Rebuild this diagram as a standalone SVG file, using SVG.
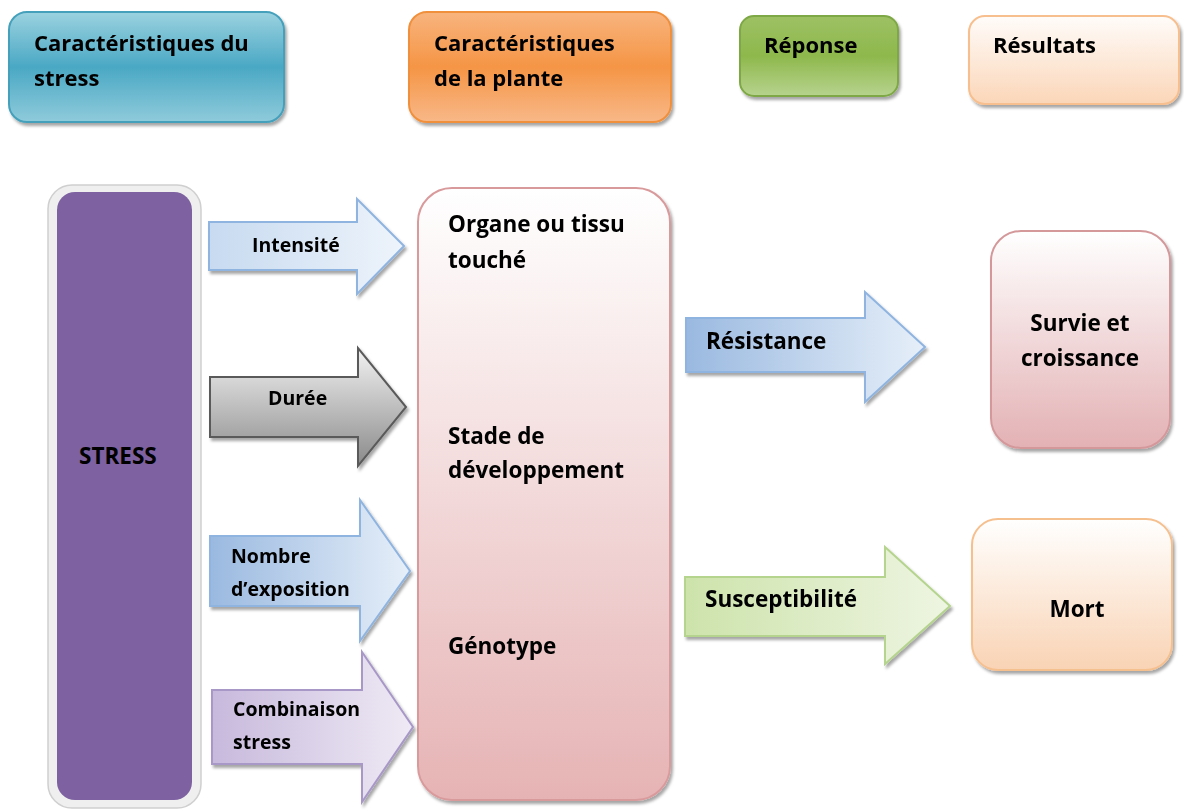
<svg xmlns="http://www.w3.org/2000/svg" width="1184" height="811" viewBox="0 0 1184 811">
<defs>
<style>
text{font-family:"Open Sans","Liberation Sans",sans-serif;font-weight:bold;fill:#000}
.h{font-size:22px}
.t{font-size:22.5px}
.s{font-size:19.5px}
</style>
<filter id="sh" x="-10%" y="-10%" width="125%" height="125%">
<feDropShadow dx="2" dy="3" stdDeviation="1.5" flood-color="#000" flood-opacity="0.35"/>
</filter>
<linearGradient id="gTeal" x1="0" y1="0" x2="0" y2="1">
<stop offset="0" stop-color="#9bd2e0"/><stop offset="0.5" stop-color="#4aa8c4"/><stop offset="1" stop-color="#8fcbdb"/>
</linearGradient>
<linearGradient id="gOrange" x1="0" y1="0" x2="0" y2="1">
<stop offset="0" stop-color="#f8b47e"/><stop offset="0.5" stop-color="#f59545"/><stop offset="1" stop-color="#f8b888"/>
</linearGradient>
<linearGradient id="gGreen" x1="0" y1="0" x2="0" y2="1">
<stop offset="0" stop-color="#9dc164"/><stop offset="0.5" stop-color="#8eb84c"/><stop offset="1" stop-color="#b7d38e"/>
</linearGradient>
<linearGradient id="gPeach" x1="0" y1="0" x2="0" y2="1">
<stop offset="0" stop-color="#fffcfa"/><stop offset="1" stop-color="#fbd6b8"/>
</linearGradient>
<linearGradient id="gPlant" x1="0" y1="0" x2="0" y2="1">
<stop offset="0" stop-color="#ffffff"/><stop offset="1" stop-color="#e6b3b4"/>
</linearGradient>
<linearGradient id="gSurvie" x1="0" y1="0" x2="0" y2="1">
<stop offset="0" stop-color="#ffffff"/><stop offset="1" stop-color="#e3b1b4"/>
</linearGradient>
<linearGradient id="gMort" x1="0" y1="0" x2="0" y2="1">
<stop offset="0" stop-color="#ffffff"/><stop offset="1" stop-color="#f9d3b4"/>
</linearGradient>
<linearGradient id="gBlueL" x1="0" y1="0" x2="1" y2="0">
<stop offset="0" stop-color="#c7daf0"/><stop offset="1" stop-color="#eef4fb"/>
</linearGradient>
<linearGradient id="gBlueD" x1="0" y1="0" x2="1" y2="0">
<stop offset="0" stop-color="#9ab9e0"/><stop offset="1" stop-color="#e6eff9"/>
</linearGradient>
<linearGradient id="gGray" x1="0" y1="0" x2="0" y2="1">
<stop offset="0" stop-color="#f2f2f2"/><stop offset="1" stop-color="#8a8a8a"/>
</linearGradient>
<linearGradient id="gLav" x1="0" y1="0" x2="1" y2="0">
<stop offset="0" stop-color="#c7b9dc"/><stop offset="1" stop-color="#efeaf5"/>
</linearGradient>
<linearGradient id="gGreenA" x1="0" y1="0" x2="1" y2="0">
<stop offset="0" stop-color="#cde3ab"/><stop offset="1" stop-color="#eef5e2"/>
</linearGradient>
</defs>
<rect width="1184" height="811" fill="#fff"/>

<g id="legend-stress" filter="url(#sh)">
<rect x="9" y="12" width="275" height="110" rx="18" fill="url(#gTeal)" stroke="#45a0bb" stroke-width="2"/>
<text class="h" x="34" y="51">Caractéristiques du</text>
<text class="h" x="34" y="86">stress</text>
</g>
<g id="legend-plante" filter="url(#sh)">
<rect x="409" y="12" width="262" height="110" rx="18" fill="url(#gOrange)" stroke="#f0903c" stroke-width="2"/>
<text class="h" x="434" y="51">Caractéristiques</text>
<text class="h" x="434" y="86">de la plante</text>
</g>
<g id="legend-reponse" filter="url(#sh)">
<rect x="740" y="16" width="158" height="80" rx="14" fill="url(#gGreen)" stroke="#7ea845" stroke-width="2"/>
<text class="h" x="764" y="53">Réponse</text>
</g>
<g id="legend-resultats" filter="url(#sh)">
<rect x="969" y="16" width="210" height="88" rx="16" fill="url(#gPeach)" stroke="#f8bf8e" stroke-width="2"/>
<text class="h" x="993" y="53">Résultats</text>
</g>

<g id="stress">
<rect x="48" y="185" width="153" height="623" rx="24" fill="#efefef" stroke="#cfcfcf" stroke-width="1.5"/>
<rect x="57" y="192" width="135" height="608" rx="18" fill="#7d61a0"/>
<text class="t" x="79" y="464">STRESS</text>
</g>

<g id="plante" filter="url(#sh)">
<rect x="418" y="188" width="252" height="612" rx="34" fill="url(#gPlant)" stroke="#d99a9c" stroke-width="2"/>
<text class="t" x="448" y="232">Organe ou tissu</text>
<text class="t" x="448" y="268">touché</text>
<text class="t" x="448" y="444">Stade de</text>
<text class="t" x="448" y="478">développement</text>
<text class="t" x="448" y="654">Génotype</text>
</g>

<g id="survie" filter="url(#sh)">
<rect x="991" y="231" width="179" height="217" rx="30" fill="url(#gSurvie)" stroke="#d4989b" stroke-width="2"/>
<text class="t" x="1080" y="331" text-anchor="middle">Survie et</text>
<text class="t" x="1080" y="366" text-anchor="middle">croissance</text>
</g>
<g id="mort" filter="url(#sh)">
<rect x="972" y="519" width="200" height="151" rx="26" fill="url(#gMort)" stroke="#f6bf8e" stroke-width="2"/>
<text class="t" x="1077" y="617" text-anchor="middle">Mort</text>
</g>

<g id="connectors" filter="url(#sh)">
<g id="arrow-intensite">
<path d="M209,222 H357 V199 L404,246 L357,294 V270 H209 Z" fill="url(#gBlueL)" stroke="#8fb4e0" stroke-width="2"/>
<text class="s" x="252" y="252">Intensité</text>
</g>
<g id="arrow-duree">
<path d="M210,377 H358 V348 L406,407 L358,466 V437 H210 Z" fill="url(#gGray)" stroke="#5a5a5a" stroke-width="2"/>
<text class="s" x="268" y="405">Durée</text>
</g>
<g id="arrow-nombre">
<path d="M210,536 H360 V500 L410,571 L360,641 V606 H210 Z" fill="url(#gBlueD)" stroke="#8fb4e0" stroke-width="2"/>
<text class="s" x="231" y="563">Nombre</text>
<text class="s" x="231" y="596">d’exposition</text>
</g>
<g id="arrow-combinaison">
<path d="M212,690 H362 V652 L413,727 L362,802 V764 H212 Z" fill="url(#gLav)" stroke="#a898c8" stroke-width="2"/>
<text class="s" x="233" y="716">Combinaison</text>
<text class="s" x="233" y="749">stress</text>
</g>
<g id="arrow-resistance">
<path d="M686,318 H865 V292 L925,347 L865,402 V372 H686 Z" fill="url(#gBlueD)" stroke="#8fb4e0" stroke-width="2"/>
<text class="t" x="706" y="349">Résistance</text>
</g>
<g id="arrow-susceptibilite">
<path d="M685,577 H885 V547 L950,606 L885,664 V636 H685 Z" fill="url(#gGreenA)" stroke="#b5d48e" stroke-width="2"/>
<text class="t" x="705" y="607">Susceptibilité</text>
</g>
</g>
</svg>
